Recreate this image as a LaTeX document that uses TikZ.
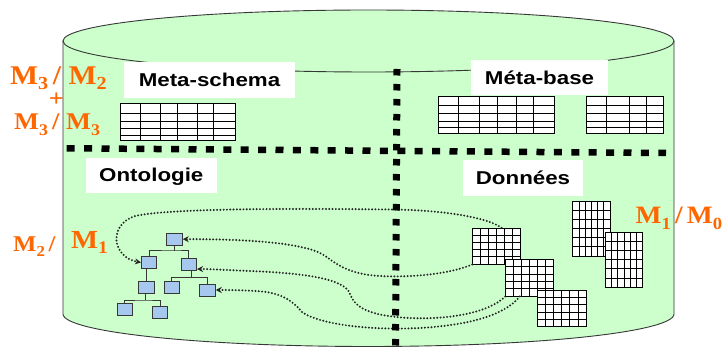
\documentclass[tikz,border=0pt]{standalone}
\usepackage{fontspec}
\usepackage{graphicx}
\usetikzlibrary{calc,fit,arrows.meta}
\setmainfont{Liberation Sans}
\newfontfamily\labfont[FakeStretch=1.2]{Liberation Sans}
\newfontfamily\orfont[FakeStretch=1.1]{Liberation Serif}
\definecolor{cylgreen}{RGB}{204,255,204}
\definecolor{orlab}{RGB}{255,102,0}
\definecolor{treeblue}{RGB}{166,200,238}
\definecolor{edgegray}{RGB}{55,55,55}
\newcommand\msub[1]{\raisebox{-0.21em}{\scalebox{0.68}{#1}}}
\newcommand\gridtab[7]{%
  \node[gridbox, fit={(#2,#3) (#4,#5)}] (#1) {};
  \foreach \i in {1,...,#6}{\pgfmathsetmacro\xx{#2+\i*(#4-#2)/#6}\draw[gridline] (\xx,#3) -- (\xx,#5);}
  \foreach \j in {1,...,#7}{\pgfmathsetmacro\yy{#3+\j*(#5-#3)/#7}\draw[gridline] (#2,\yy) -- (#4,\yy);}
}
\tikzset{
  cyl/.style={draw=edgegray, line width=0.9pt},
  orl/.style={text=orlab, inner sep=0pt, anchor=base west},
  labbox/.style={fill=white, inner sep=0pt, text height=13.3pt, text depth=0pt,
     font=\labfont\bfseries\fontsize{18.6}{20}\selectfont},
  gridbox/.style={draw=black, fill=white, inner sep=0pt, line width=0.9pt},
  gridline/.style={draw=black, line width=0.75pt},
  tnode/.style={draw=edgegray, fill=treeblue, line width=1pt, minimum width=15.5pt, minimum height=12pt, inner sep=0pt},
  tedge/.style={draw=edgegray, line width=1pt},
  conn/.style={draw=black!85, line width=2.2pt, line cap=round, dash pattern=on 0pt off 3.3pt, -{Stealth[length=6pt,width=6pt]}},
  hdiv/.style={draw=black, line width=6.5pt, dash pattern=on 8pt off 9.4pt},
  vdiv/.style={draw=black, line width=7pt, dash pattern=on 6.5pt off 8.5pt},
}
\begin{document}
\begin{tikzpicture}[x=1pt,y=-1pt]
\useasboundingbox (0,0) rectangle (725,347);
\fill[white] (0,0) rectangle (725,347);
% cylinder body
\fill[cylgreen] (63,41) -- (63,314) -- plot[domain=180:0, samples=80] ({368.5+305.5*cos(\x)}, {314+32.5*sin(\x)}) -- (674,41) -- plot[domain=0:180, samples=80] ({368.5+305.5*cos(\x)}, {41-31*sin(\x)}) -- cycle;
% orange labels
\node[orl, font=\orfont\bfseries\fontsize{27}{27}\selectfont] (m32) at (10,84.3) {M\msub{3}\,/\;M\msub{2}};
\node[text=orlab, inner sep=0pt, font=\orfont\bfseries\fontsize{24}{24}\selectfont] (plus) at (56.5,100) {+};
\node[orl, font=\orfont\bfseries\fontsize{24}{24}\selectfont] (m33) at (14,130) {M\msub{3}\,/\;M\msub{3}};
\node[orl, font=\orfont\bfseries\fontsize{22.5}{22.5}\selectfont] (m2) at (13,251.7) {M\msub{2}\,/};
\node[orl, font=\orfont\bfseries\fontsize{26}{26}\selectfont] (m1) at (71,248.3) {M\msub{1}};
\node[orl, font=\orfont\bfseries\fontsize{25}{25}\selectfont] (m10) at (635.5,224) {M\msub{1}\,/\,M\msub{0}};
% cylinder outline
\draw[cyl] (63,41) -- (63,314) -- plot[domain=180:0, samples=80] ({368.5+305.5*cos(\x)}, {314+32.5*sin(\x)}) -- (674,41);
\draw[cyl] (368.5,41) ellipse [x radius=305.5pt, y radius=31pt];
% tree nodes
\node[tnode] (r) at (174.5,239.2) {};
\node[tnode] (a) at (149.2,262.5) {};
\node[tnode] (b) at (188.8,264.5) {};
\node[tnode] (c) at (146.5,287.5) {};
\node[tnode] (d) at (171.8,287.5) {};
\node[tnode] (e) at (207.5,290) {};
\node[tnode] (f) at (124.8,309.8) {};
\node[tnode] (g) at (160.2,312.5) {};
\coordinate (rb) at (174,251);
\coordinate (bb) at (191,277.7);
\coordinate (cb) at (145,300);
\draw[tedge] (rb |- r.south) -- (rb);
\draw[tedge] (a.north) |- (rb) -| (b.north);
\draw[tedge] (c.north) -- (c.north |- a.south);
\draw[tedge] (bb |- b.south) -- (bb);
\draw[tedge] (d.north) |- (bb) -| (e.north);
\draw[tedge] (cb |- c.south) -- (cb);
\draw[tedge] (f.north) |- (cb) -| (g.north);
% data grids
\gridtab{gA}{472.7}{228.3}{520.7}{264}{6}{5}
\gridtab{gB}{505.7}{259.3}{553.3}{296}{6}{5}
\gridtab{gC}{537.3}{290}{586}{326.7}{6}{5}
\gridtab{gD}{572.7}{201}{610}{256}{6}{6}
\gridtab{gE}{605.3}{232}{642.7}{287.3}{6}{6}
% connectors
\draw[conn] ($(gA.north west)!0.6!(gA.north east)$) .. controls (490,219) and (450,210) .. (390,209.5)
   .. controls (300,208.5) and (170,208) .. (135,216) .. controls (108,225) and (112,257) .. (a.west);
\draw[conn] (gA.south west) .. controls (455,272) and (420,278) .. (380,276)
   .. controls (345,274) and (335,262) .. (322,254) .. controls (300,242) and (240,239) .. (r.east);
\draw[conn] (gB.south west) .. controls (490,312) and (450,320) .. (410,318)
   .. controls (370,316) and (355,308) .. (350,294) .. controls (345,278) and (300,273) .. (250,271)
   .. controls (225,270) and (210,269) .. ($(b.east)!0.7!(b.south east)$);
\draw[conn] ($(gB.south west)!0.3!(gB.south east)$) .. controls (505,315) and (470,325) .. (420,328)
   .. controls (360,331) and (315,322) .. (302,312) .. controls (292,300) and (280,292) .. (255,291)
   .. controls (240,290) and (225,290) .. (e.east);
% dividers
\coordinate (h1) at (66.7,148.3);
\coordinate (h2) at (666,153);
\coordinate (v1) at (397,69);
\coordinate (v2) at (395.5,352);
\draw[hdiv] (h1) -- (h2);
\draw[vdiv] (v1) -- (v2);
% labels
\node[labbox, minimum width=171pt, minimum height=36pt] (lms) at (209.5,80) {Meta-schema};
\node[labbox, minimum width=137pt, minimum height=35pt] (lmb) at (539.5,77.5) {Méta-base};
\node[labbox, minimum width=131pt, minimum height=35pt] (lon) at (151.3,175.3) {Ontologie};
\node[labbox, minimum width=120pt, minimum height=36pt] (ldo) at (523,178) {Données};
% meta tables
\node[gridbox, fit={(120,103.3) (235,140.7)}] (ms) {};
\foreach \x in {140,160.7,177.7,197.3,213.3} \draw[gridline] (\x,103.3) -- (\x,140.7);
\foreach \y in {113.3,121.7,128.3,135} \draw[gridline] (120,\y) -- (235,\y);
\node[gridbox, fit={(438.3,96.7) (554,133.3)}] (mb1) {};
\foreach \x in {458.3,479.3,497.7,516,533.3} \draw[gridline] (\x,96.7) -- (\x,133.3);
\foreach \y in {105.7,113.3,121,127.7} \draw[gridline] (438.3,\y) -- (554,\y);
\node[gridbox, fit={(586.7,96.7) (663.3,133.3)}] (mb2) {};
\foreach \x in {606.7,629,646} \draw[gridline] (\x,96.7) -- (\x,133.3);
\foreach \y in {105.7,113.3,121,127.7} \draw[gridline] (586.7,\y) -- (663.3,\y);
\end{tikzpicture}
\end{document}
